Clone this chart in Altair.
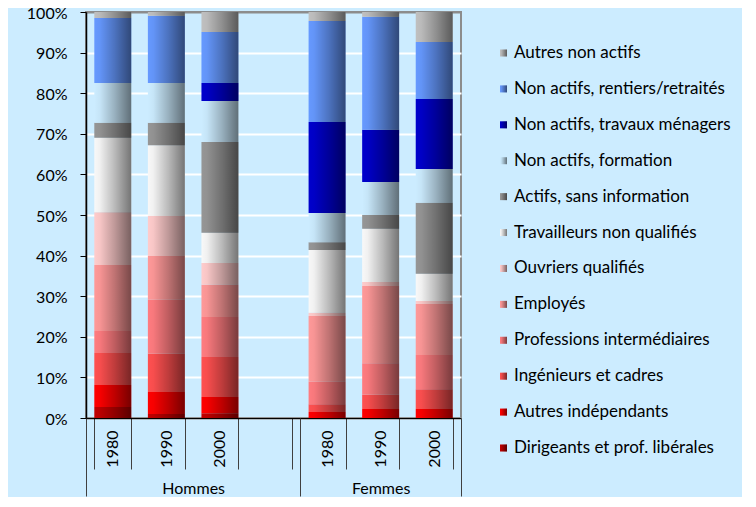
import altair as alt
import pandas as pd

# ---- data (stack order: bottom -> top) ----
categories = [
    "Dirigeants et prof. libérales",
    "Autres indépendants",
    "Ingénieurs et cadres",
    "Professions intermédiaires",
    "Employés",
    "Ouvriers qualifiés",
    "Travailleurs non qualifiés",
    "Actifs, sans information",
    "Non actifs, formation",
    "Non actifs, travaux ménagers",
    "Non actifs, rentiers/retraités",
    "Autres non actifs",
]
colors = [
    "#C00000", "#FF0000", "#FF5050", "#FF7C80", "#FF9999", "#FFCCCC",
    "#F8F8F8", "#969696", "#CCECFF", "#0000CC", "#6699FF", "#C0C0C0",
]
slots = ["H1980", "H1990", "H2000", "gap", "F1980", "F1990", "F2000"]
groups = ["Hommes", "Femmes"]

hommes_1980 = [2.7, 5.4, 7.9, 5.4, 16.3, 13.0, 18.3, 3.7, 9.8, 0.0, 16.0, 1.5]
hommes_1990 = [1.0, 5.4, 9.4, 13.3, 10.8, 9.9, 17.4, 5.5, 9.8, 0.0, 16.6, 0.9]
hommes_2000 = [1.2, 4.0, 9.8, 9.9, 7.9, 5.4, 7.4, 22.4, 10.1, 4.4, 12.6, 4.9]
femmes_1980 = [0.0, 1.5, 1.9, 5.5, 16.2, 0.8, 15.5, 1.9, 7.2, 22.4, 24.9, 2.2]
femmes_1990 = [0.0, 2.2, 3.5, 7.8, 19.0, 1.0, 13.1, 3.4, 8.1, 12.9, 27.8, 1.2]
femmes_2000 = [0.0, 2.2, 4.9, 8.4, 12.6, 0.7, 6.7, 17.5, 8.3, 17.3, 14.0, 7.4]

series = {
    "H1980": hommes_1980, "H1990": hommes_1990, "H2000": hommes_2000,
    "F1980": femmes_1980, "F1990": femmes_1990, "F2000": femmes_2000,
}

rows = []
for s, vals in series.items():
    for k, (c, v) in enumerate(zip(categories, vals)):
        rows.append({"slot": s, "cat": c, "v": v, "k": k})
df = pd.DataFrame(rows)

legend_order = categories[::-1]
legend_colors = colors[::-1]
leg_df = pd.DataFrame({"cat": legend_order, "li": list(range(len(legend_order)))})
ov_df = pd.DataFrame({"slot": [s for s in slots if s != "gap"], "lo": 0.0, "hi": 1.0})
sep_df = pd.DataFrame({"p": [0, 4, 7]})
grp_df = pd.DataFrame({"g": [2.0, 5.5], "name": groups})

FONT = "Lato"
W, H = 375, 406

def shade_gradient():
    return alt.Gradient(
        gradient="linear",
        stops=[
            alt.GradientStop(color="rgba(0,0,0,0)", offset=0),
            alt.GradientStop(color="rgba(0,0,0,0.03)", offset=0.15),
            alt.GradientStop(color="rgba(0,0,0,0.25)", offset=0.55),
            alt.GradientStop(color="rgba(0,0,0,0.53)", offset=1),
        ],
        x1=0, x2=1, y1=0, y2=0,
    )

xscale = alt.Scale(domain=slots, paddingInner=0.31, paddingOuter=0.155)
cscale = alt.Scale(domain=legend_order, range=legend_colors)

bars = alt.Chart(df).mark_bar(strokeWidth=0).encode(
    x=alt.X("slot:N", scale=xscale, sort=slots,
            axis=alt.Axis(orient="bottom", title=None,
                          labelExpr="(isString(datum.value) && datum.value != 'gap') ? substring(datum.value, 1) : ''",
                          labelAngle=270, labelPadding=-39, tickBand="extent",
                          tickSize=51, tickColor="#404040", domainColor="black",
                          domainWidth=1.5, labelFontSize=16, labelColor="black",
                          labelFont=FONT, grid=False)),
    y=alt.Y("v:Q", stack="normalize", scale=alt.Scale(domain=[0, 1]),
            axis=alt.Axis(title=None, format=".0%", values=[i / 10 for i in range(11)],
                          tickSize=6, tickColor="black", labelPadding=13, labelOffset=1,
                          domainColor="black", domainWidth=1.5,
                          labelFontSize=16, labelColor="black", labelFont=FONT,
                          grid=True, gridWidth=2,
                          gridColor={"condition": {"test": "datum.value >= 1", "value": "#8c8c8c"},
                                     "value": "#ffffff"})),
    color=alt.Color("cat:N", scale=cscale, legend=None),
    order=alt.Order("k:Q", sort="ascending"),
)

overlay = alt.Chart(ov_df).mark_bar(color=shade_gradient(), strokeWidth=0).encode(
    x=alt.X("slot:N", scale=xscale, sort=slots, axis=None),
    y=alt.Y("lo:Q", scale=alt.Scale(domain=[0, 1]), axis=None),
    y2="hi:Q",
)

sep = alt.Chart(sep_df).mark_rule(opacity=0).encode(
    x=alt.X("p:Q", scale=alt.Scale(domain=[0, 7], nice=False, zero=False),
            axis=alt.Axis(orient="bottom", title=None, values=[0, 4, 7], tickSize=78,
                          tickColor="#404040", labels=False, domain=False, grid=False))
)

grp = alt.Chart(grp_df).mark_rule(opacity=0).encode(
    x=alt.X("g:Q", scale=alt.Scale(domain=[0, 7], nice=False, zero=False),
            axis=alt.Axis(orient="bottom", title=None, values=[2, 5.5], ticks=False,
                          tickSize=0, domain=False, grid=False, labelFlush=False,
                          labelExpr="datum.value < 4 ? 'Hommes' : 'Femmes'",
                          labelPadding=62, labelBaseline="top", labelAlign="center",
                          labelFontSize=16, labelColor="black", labelFont=FONT))
)

leg_y = alt.Y("li:Q", scale=alt.Scale(domain=[0, 11], range=[41, 436]), axis=None)
leg_sq = alt.Chart(leg_df).mark_square(size=49, opacity=1, strokeWidth=0).encode(
    x=alt.value(417.5), y=leg_y, color=alt.Color("cat:N", scale=cscale, legend=None))
leg_sq2 = alt.Chart(leg_df).mark_square(size=49, opacity=1, strokeWidth=0,
                                        color=shade_gradient()).encode(
    x=alt.value(417.5), y=leg_y)
leg_tx = alt.Chart(leg_df).mark_text(align="left", baseline="middle", fontSize=17,
                                     font=FONT, color="black").encode(
    x=alt.value(428), y=leg_y, text="cat:N")

chart = alt.layer(bars, overlay, sep, grp, leg_sq, leg_sq2, leg_tx).resolve_scale(
    x="independent", y="independent"
).properties(
    width=W, height=H,
    padding={"left": 18, "top": -3, "right": 11, "bottom": 0},
    background="#CCECFF",
).configure_view(stroke="#8c8c8c", strokeWidth=2)

chart.save("out.html", embed_options={"renderer": "svg", "actions": False})
